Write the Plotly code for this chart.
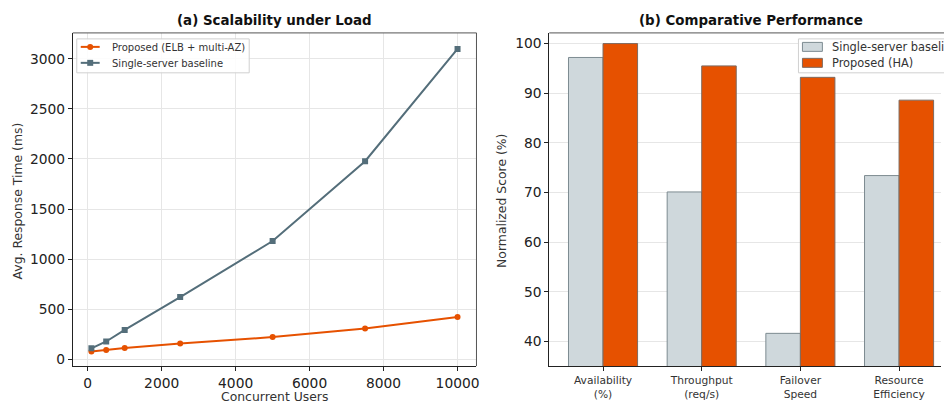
import plotly.graph_objects as go

# ---------------- data ----------------
users = [100, 500, 1000, 2500, 5000, 7500, 10000]
proposed_ms = [75, 92, 110, 155, 220, 305, 420]
baseline_ms = [108, 176, 292, 620, 1180, 1978, 3100]

categories = ["Availability\n(%)", "Throughput\n(req/s)", "Failover\nSpeed", "Resource\nEfficiency"]
baseline_score = [97.2, 70.1, 41.6, 73.4]
proposed_score = [100.0, 95.5, 93.2, 88.6]

left_ticks = [0, 2000, 4000, 6000, 8000, 10000]
left_yticks = [0, 500, 1000, 1500, 2000, 2500, 3000]
right_yticks = [40, 50, 60, 70, 80, 90, 100]

line_names = ["Proposed (ELB + multi-AZ)", "Single-server baseline"]
bar_names = ["Single-server baseline", "Proposed (HA)"]

ORANGE = "#E65100"
SLATE = "#546E7A"
LIGHT = "#CFD8DC"
FONT = "DejaVu Sans"

W, H = 944, 405
cat_labels = [c.replace("\n", "<br>") for c in categories]


def px(x):
    return x / W


def py(y):
    return 1 - y / H


fig = go.Figure()
fig.add_trace(go.Scatter(x=users, y=proposed_ms, mode="lines+markers", name=line_names[0],
                         line=dict(color=ORANGE, width=2), marker=dict(symbol="circle", size=6, color=ORANGE),
                         xaxis="x", yaxis="y", showlegend=False))
fig.add_trace(go.Scatter(x=users, y=baseline_ms, mode="lines+markers", name=line_names[1],
                         line=dict(color=SLATE, width=2), marker=dict(symbol="square", size=6, color=SLATE),
                         xaxis="x", yaxis="y", showlegend=False))

fig.add_trace(go.Bar(x=cat_labels, y=baseline_score, name=bar_names[0],
                     marker=dict(color=LIGHT, line=dict(color="#7d8b91", width=1)),
                     xaxis="x2", yaxis="y2", showlegend=False))
fig.add_trace(go.Bar(x=cat_labels, y=proposed_score, name=bar_names[1],
                     marker=dict(color=ORANGE, line=dict(color="#7d6a60", width=1)),
                     xaxis="x2", yaxis="y2", showlegend=False))

L0, L1 = 73, 478
R0, R1 = 551, 944
T, B = 33, 367
ydom = [py(B), py(T)]

axis_common = dict(showline=True, linecolor="#222", linewidth=1, ticks="outside", ticklen=4,
                   tickcolor="#222", tickfont=dict(family=FONT, size=13.8, color="#222"),
                   zeroline=False)

shapes = [
    dict(type="line", xref="paper", yref="paper", x0=px(L0), x1=px(L1), y0=py(T), y1=py(T),
         line=dict(color="#555", width=1)),
    dict(type="line", xref="paper", yref="paper", x0=px(L1), x1=px(L1), y0=py(T), y1=py(B),
         line=dict(color="#555", width=1)),
    dict(type="line", xref="paper", yref="paper", x0=px(R0), x1=1.01, y0=py(T), y1=py(T),
         line=dict(color="#555", width=1)),
    # left legend box
    dict(type="rect", xref="paper", yref="paper", x0=px(77), x1=px(250), y0=py(73), y1=py(39),
         line=dict(color="#d0d0d0", width=1), fillcolor="rgba(255,255,255,0.85)", layer="above"),
    # right legend box
    dict(type="rect", xref="paper", yref="paper", x0=px(801), x1=1.02, y0=py(73), y1=py(39),
         line=dict(color="#d0d0d0", width=1), fillcolor="rgba(255,255,255,0.85)", layer="above"),
]

annotations = [
    dict(text="<b>(a) Scalability under Load</b>", x=px((L0 + L1) / 2), y=py(21), xref="paper", yref="paper",
         showarrow=False, xanchor="center", yanchor="middle", font=dict(family=FONT, size=13.4, color="#111")),
    dict(text="<b>(b) Comparative Performance</b>", x=px(753), y=py(21), xref="paper", yref="paper",
         showarrow=False, xanchor="center", yanchor="middle", font=dict(family=FONT, size=13.4, color="#111")),
    dict(text="Avg. Response Time (ms)", x=px(18), y=py(201), xref="paper", yref="paper", textangle=-90,
         showarrow=False, xanchor="center", yanchor="middle", font=dict(family=FONT, size=12.4, color="#333")),
    dict(text="Normalized Score (%)", x=px(503), y=py(201), xref="paper", yref="paper", textangle=-90,
         showarrow=False, xanchor="center", yanchor="middle", font=dict(family=FONT, size=12.4, color="#333")),
    dict(text="Concurrent Users", x=px((L0 + L1) / 2), y=py(397), xref="paper", yref="paper",
         showarrow=False, xanchor="center", yanchor="middle", font=dict(family=FONT, size=12.4, color="#333")),
]

# manual legends (compact, like the reference)
leg_rows = [47, 63]
line_colors = [ORANGE, SLATE]
symbols = ["circle", "rect"]
for i, name in enumerate(line_names):
    yy = leg_rows[i]
    shapes.append(dict(type="line", xref="paper", yref="paper", x0=px(81), x1=px(100), y0=py(yy), y1=py(yy),
                       line=dict(color=line_colors[i], width=2), layer="above"))
    shapes.append(dict(type=symbols[i], xref="paper", yref="paper", x0=px(87.5), x1=px(93.5),
                       y0=py(yy + 3), y1=py(yy - 3), line=dict(color=line_colors[i], width=0),
                       fillcolor=line_colors[i], layer="above"))
    annotations.append(dict(text=name, x=px(110), y=py(yy + 1), xref="paper", yref="paper", showarrow=False,
                            xanchor="left", yanchor="middle", font=dict(family=FONT, size=10, color="#333")))

bar_fill = [LIGHT, ORANGE]
bar_edge = ["#7d8b91", "#7d6a60"]
for i, name in enumerate(bar_names):
    yy = leg_rows[i]
    shapes.append(dict(type="rect", xref="paper", yref="paper", x0=px(805), x1=px(825),
                       y0=py(yy + 4.5), y1=py(yy - 4.5), line=dict(color=bar_edge[i], width=1),
                       fillcolor=bar_fill[i], layer="above"))
    annotations.append(dict(text=name, x=px(833), y=py(yy), xref="paper", yref="paper", showarrow=False,
                            xanchor="left", yanchor="middle", font=dict(family=FONT, size=11.4, color="#333")))

fig.update_layout(
    width=W, height=H,
    margin=dict(l=0, r=0, t=0, b=0),
    paper_bgcolor="white", plot_bgcolor="white",
    font=dict(family=FONT, color="#222"),
    showlegend=False,
    barmode="group", bargap=0.3, bargroupgap=0,
    xaxis=dict(domain=[px(L0), px(L1)], range=[-404, 10512], tickvals=left_ticks,
               ticktext=[str(v) for v in left_ticks],
               showgrid=True, gridcolor="#e6e6e6", anchor="y", **axis_common),
    yaxis=dict(domain=ydom, range=[-70, 3260], tickvals=left_yticks,
               ticktext=[str(v) for v in left_yticks],
               showgrid=True, gridcolor="#e6e6e6", anchor="x", **axis_common),
    xaxis2=dict(domain=[px(R0), 1], range=[-0.545, 3.425], type="category",
                showgrid=False, anchor="y2",
                **{**axis_common, "tickfont": dict(family=FONT, size=10.7, color="#333")}),
    yaxis2=dict(domain=ydom, range=[35, 102.15], tickvals=right_yticks,
                showgrid=True, gridcolor="#e6e6e6", anchor="x2", **axis_common),
    shapes=shapes,
    annotations=annotations,
)

fig.write_html("out.html", config={"displayModeBar": False},
               post_script="document.body.style.margin='0';document.body.style.overflow='hidden';")
